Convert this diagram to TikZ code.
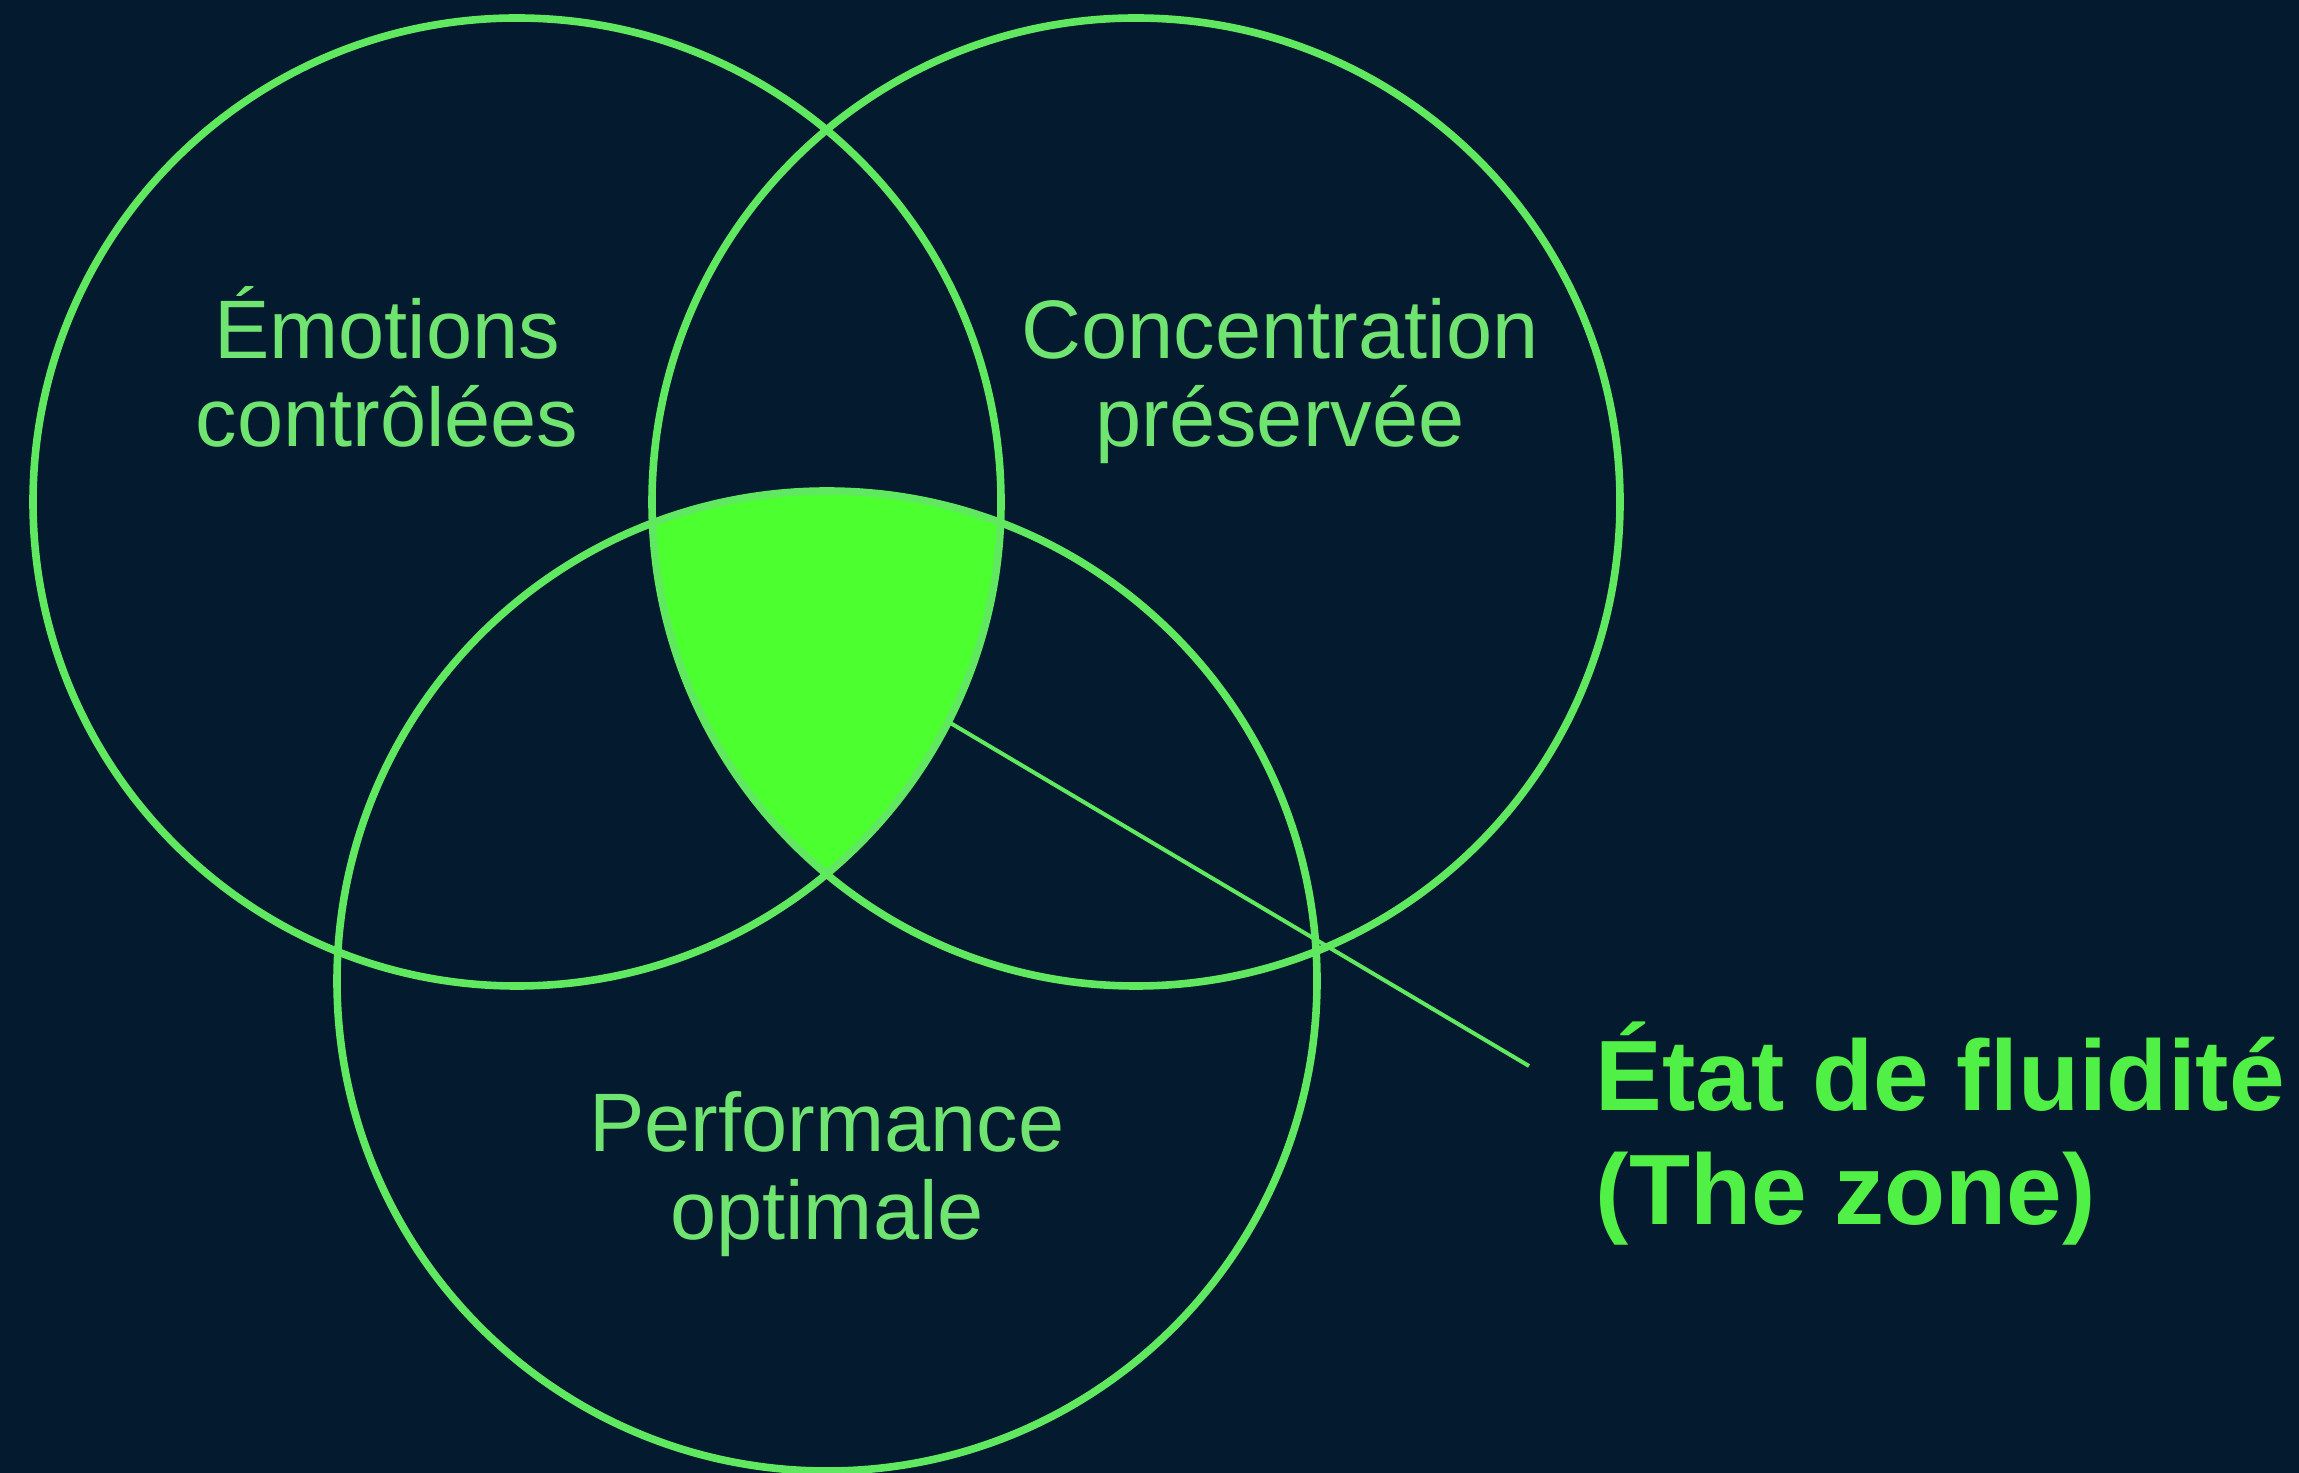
\documentclass[tikz,border=0pt]{standalone}
\usepackage{fontspec}
\setmainfont{Liberation Sans}
\definecolor{bgnavy}{RGB}{4,26,46}
\definecolor{ringgreen}{RGB}{96,232,96}
\definecolor{zonegreen}{RGB}{76,255,46}
\definecolor{labelgreen}{RGB}{112,228,112}
\definecolor{boldgreen}{RGB}{80,240,70}
\begin{document}
\begin{tikzpicture}[x=0.25pt,y=-0.25pt,
  ring/.style={circle, draw=ringgreen, line width=1.9pt, inner sep=0pt, outer sep=0pt},
  lbl/.style={text=labelgreen, align=center, anchor=base, inner sep=0pt,
    font=\fontsize{20.75}{22}\selectfont},
  zonelbl/.style={text=boldgreen, align=left, anchor=base west, inner sep=0pt,
    font=\fontsize{25}{28.5}\selectfont\bfseries},
  leader/.style={draw=ringgreen, line width=1pt}]
  \fill[bgnavy] (0,0) rectangle (2299,1473);
  \useasboundingbox (0,0) rectangle (2299,1473);
  % triple intersection
  \begin{scope}
    \clip (517,502) circle [radius=484];
    \clip (1136,502) circle [radius=484];
    \fill[zonegreen] (827,981) circle [radius=490];
  \end{scope}
  \node[ring, minimum size=242pt] (emo) at (517,502) {};
  \node[ring, minimum size=242pt] (conc) at (1136,502) {};
  \node[ring, minimum size=245pt] (perf) at (827,981) {};
  \node[lbl] (emotxt) at (387,447) {Émotions\\contrôlées};
  \node[lbl] (conctxt) at (1280,447) {Concentration\\préservée};
  \node[lbl] (perftxt) at (827,1239) {Performance\\optimale};
  \node[zonelbl] (zone) at (1595,1224) {État de fluidité\\(The zone)};
  \coordinate (leadend) at (1529,1066);
  \draw[leader] (emo.-27.4) -- (leadend);
\end{tikzpicture}
\end{document}
